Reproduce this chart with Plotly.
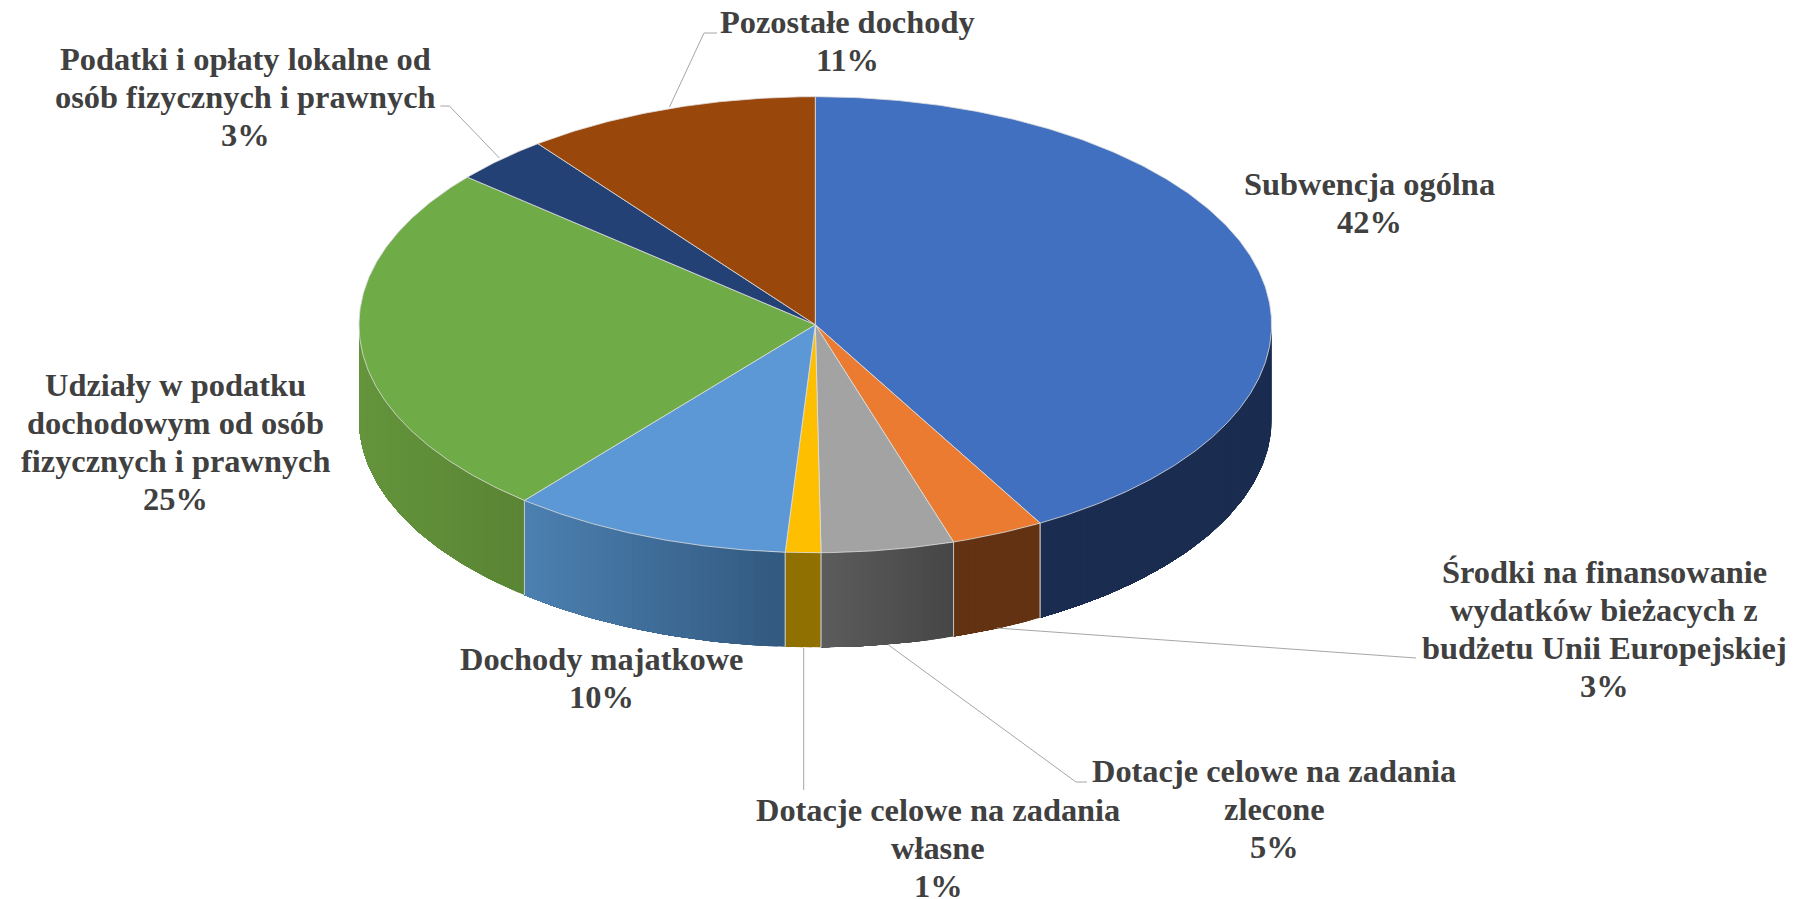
import math
import plotly.graph_objects as go

# Data
categories = ["Subwencja ogólna",
              "Środki na finansowanie<br>wydatków bieżacych z<br>budżetu Unii Europejskiej",
              "Dotacje celowe na zadania<br>zlecone",
              "Dotacje celowe na zadania<br>własne",
              "Dochody majatkowe",
              "Udziały w podatku<br>dochodowym od osób<br>fizycznych i prawnych",
              "Podatki i opłaty lokalne od<br>osób fizycznych i prawnych",
              "Pozostałe dochody"]
shares = [41.8, 3.3, 4.7, 1.25, 9.95, 25.2, 3.4, 10.4]
printed_percent = [42, 3, 5, 1, 10, 25, 3, 11]

top_colors = ["#4270c0", "#ea7b31", "#a3a3a3", "#fdbf00", "#5b98d5", "#6fab47", "#244176", "#9a470c"]
side_left = ["#1a2c50", "#623212", "#5c5c5c", "#8f7000", "#4c80b1", "#64943c", "#16294a", "#5e2c08"]
side_right = ["#1a2c50", "#623212", "#464646", "#8f7000", "#32597f", "#5a8534", "#16294a", "#5e2c08"]

# Label placement: block centre in page pixels
label_x = [1369, 1604, 1274, 938, 601, 175, 245, 847]
label_y = [203, 629, 809, 848, 678, 442, 97, 41]
LINE_STEP = 38

# Leader lines in page pixels
leaders = [
    ([669.5, 704, 717], [107, 33, 33]),
    ([499.4, 449.4, 440.4], [158, 106, 106]),
    ([996.6, 1399, 1416], [628, 657.5, 658]),
    ([888.5, 1076, 1087], [645, 782, 782]),
    ([803.7, 803.7], [648, 790]),
]

# Pie geometry
CX, CY, RX, RY, DEPTH = 815.3, 324.7, 456.3, 228.0, 94.6
EDGE = "rgba(222,222,222,0.8)"
TEXT = "#404040"


def px(t):
    return CX + RX * math.sin(math.radians(t))


def py(t, drop=0.0):
    return CY - RY * math.cos(math.radians(t)) + drop


def mix(c1, c2, f):
    a = [int(c1[i:i + 2], 16) for i in (1, 3, 5)]
    b = [int(c2[i:i + 2], 16) for i in (1, 3, 5)]
    return "rgb(%d,%d,%d)" % tuple(round(p + (q - p) * f) for p, q in zip(a, b))


total = sum(shares)
bounds = [0.0]
for s in shares:
    bounds.append(bounds[-1] + s / total * 360.0)

fig = go.Figure()


def poly(xs, ys, fill, line, width):
    fig.add_trace(go.Scatter(x=xs, y=ys, mode="lines", fill="toself", fillcolor=fill,
                             line=dict(color=line, width=width), hoverinfo="skip", showlegend=False))


# Side wall (only the part facing the viewer). Each band runs on to the end of
# its slice and the next band paints over it, which leaves no seams.
for i in range(len(shares)):
    t0, t1 = max(bounds[i], 90.0), min(bounds[i + 1], 270.0)
    if t1 <= t0:
        continue
    steps = max(1, int(round(t1 - t0)))
    x_left, x_right = min(px(t0), px(t1)), max(px(t0), px(t1))
    for k in range(steps):
        a = t0 + (t1 - t0) * k / steps
        b = t0 + (t1 - t0) * (k + 1) / steps
        f = ((px(a) + px(b)) / 2 - x_left) / max(x_right - x_left, 1e-6)
        col = mix(side_left[i], side_right[i], f)
        rest = [a + (t1 - a) * j / (steps - k) for j in range(steps - k + 1)]
        xs = [px(t) for t in rest] + [px(t) for t in reversed(rest)] + [px(a)]
        ys = [py(t) for t in rest] + [py(t, DEPTH) for t in reversed(rest)] + [py(a)]
        poly(xs, ys, col, col, 0)
for i in range(len(shares)):
    t0, t1 = max(bounds[i], 90.0), min(bounds[i + 1], 270.0)
    if t1 <= t0:
        continue
    for t in (t0, t1):
        if 90.0 < t < 270.0:
            fig.add_trace(go.Scatter(x=[px(t), px(t)], y=[py(t), py(t, DEPTH)], mode="lines",
                                     line=dict(color="rgba(200,200,200,0.75)", width=1),
                                     hoverinfo="skip", showlegend=False))

# Top face
for i in range(len(shares)):
    t0, t1 = bounds[i], bounds[i + 1]
    steps = max(2, int((t1 - t0) * 2))
    ts = [t0 + (t1 - t0) * k / steps for k in range(steps + 1)]
    poly([CX] + [px(t) for t in ts] + [CX], [CY] + [py(t) for t in ts] + [CY],
         top_colors[i], EDGE, 1)

# Leader lines
for xs, ys in leaders:
    fig.add_trace(go.Scatter(x=xs, y=ys, mode="lines", line=dict(color="#a6a6a6", width=1),
                             hoverinfo="skip", showlegend=False))

# Labels, one annotation per line to hold the reference's tight line spacing
for name, pct, x, y in zip(categories, printed_percent, label_x, label_y):
    lines = name.split("<br>") + [f"{pct}%"]
    for j, line in enumerate(lines):
        fig.add_annotation(x=x, y=y + (j - (len(lines) - 1) / 2) * LINE_STEP,
                           text=f"<b>{line}</b>", showarrow=False,
                           xanchor="center", yanchor="middle", align="center",
                           font=dict(family="Liberation Serif", size=32.4, color=TEXT))

fig.update_layout(width=1809, height=899, margin=dict(l=0, r=0, t=0, b=0),
                  paper_bgcolor="white", plot_bgcolor="white", showlegend=False,
                  xaxis=dict(range=[0, 1809], visible=False, fixedrange=True),
                  yaxis=dict(range=[899, 0], visible=False, fixedrange=True))

fig.write_html("out.html", config={"displayModeBar": False},
               post_script="document.body.style.margin='0';")
